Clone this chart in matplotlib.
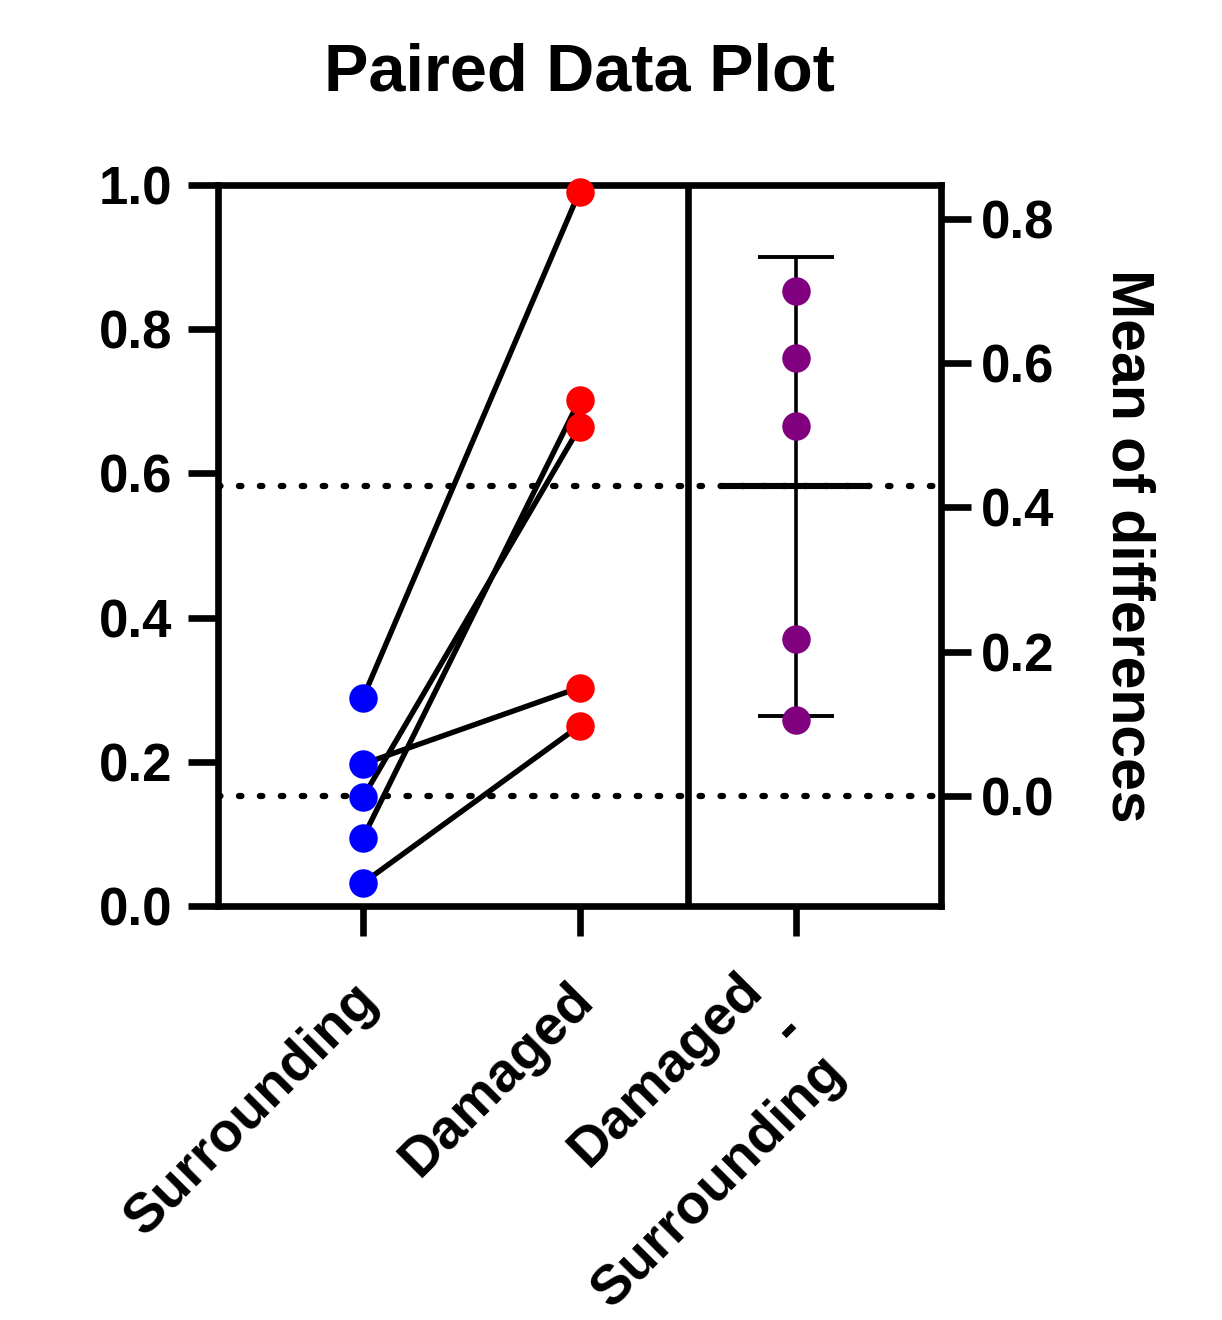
import matplotlib
matplotlib.use('Agg')
import matplotlib.pyplot as plt
import matplotlib.transforms as mtransforms
from matplotlib.ticker import FormatStrFormatter
import numpy as np

plt.rcParams['font.family'] = ['Liberation Sans', 'DejaVu Sans']
plt.rcParams['font.weight'] = 'bold'
plt.rcParams['axes.labelweight'] = 'bold'

# values
groups = ['Surrounding', 'Damaged', 'Damaged\n-\nSurrounding']
surrounding = [0.289, 0.197, 0.151, 0.095, 0.032]
damaged = [0.991, 0.303, 0.664, 0.702, 0.250]
differences = [0.700, 0.607, 0.513, 0.218, 0.105]
mean_diff = 0.429
ci_low, ci_high = 0.111, 0.747
left_ticks = [0.0, 0.2, 0.4, 0.6, 0.8, 1.0]
right_ticks = [0.0, 0.2, 0.4, 0.6, 0.8]

lw_axis = 4.8
tick_len = 21.6
ms = 20.5

fig = plt.figure(figsize=(12.22, 13.2), dpi=100)
ax1 = fig.add_axes([0.1784, 0.3136, 0.5917, 0.5462])
ax2 = ax1.twinx()
# paired points go on top of the difference axis
ax1.set_zorder(ax2.get_zorder() + 1)
ax1.patch.set_visible(False)

# paired data
for s, d in zip(surrounding, damaged):
    ax1.plot([0, 1], [s, d], color='black', lw=3.9, zorder=3)
ax1.plot(np.zeros(len(surrounding)), surrounding, 'o', color='#0000ff',
         ms=ms, mew=0, zorder=4, clip_on=False)
ax1.plot(np.ones(len(damaged)), damaged, 'o', color='#ff0000',
         ms=ms, mew=0, zorder=4, clip_on=False)
ax1.axvline(1.5, color='black', lw=lw_axis, zorder=2.6)

# difference panel
dots = (0, (0.4, 2.95))
ax2.axhline(0, color='black', lw=4.5, ls=dots, dash_capstyle='round')
ax2.axhline(mean_diff, color='black', lw=4.5, ls=dots, dash_capstyle='round')
ax2.vlines(2, ci_low, ci_high, color='black', lw=2.6)
ax2.hlines([ci_low, ci_high], 2 - 0.175, 2 + 0.175, color='black', lw=2.8)
ax2.hlines(mean_diff, 2 - 0.335, 2 + 0.335, color='black', lw=4.4)
ax2.plot(np.full(len(differences), 2), differences, 'o', color='purple',
         ms=ms, mew=0, zorder=4)

ax1.set_xlim(-0.67, 2.67)
ax1.set_ylim(0, 1)
ax2.set_ylim(-0.153, 0.847)

for sp in ax1.spines.values():
    sp.set_linewidth(lw_axis)
for sp in ax2.spines.values():
    sp.set_visible(False)

ax1.set_yticks(left_ticks)
ax1.yaxis.set_major_formatter(FormatStrFormatter('%.1f'))
ax2.set_yticks(right_ticks)
ax2.yaxis.set_major_formatter(FormatStrFormatter('%.1f'))
ax1.set_xticks(range(len(groups)), groups)

ax1.tick_params(axis='y', length=tick_len, width=lw_axis, labelsize=38, pad=11.5)
ax1.tick_params(axis='x', length=tick_len, width=lw_axis, labelsize=40, pad=27)
ax2.tick_params(axis='y', length=tick_len, width=lw_axis, labelsize=38, pad=7)

# rotated category labels, nudged like the original (pixels)
nudges = [(-12, 0), (-12, 0), (-60, 10)]
for lab, (dx, dy) in zip(ax1.get_xticklabels(), nudges):
    lab.set_rotation(45)
    lab.set_rotation_mode('anchor')
    lab.set_ha('right')
    lab.set_va('top')
    lab.set_linespacing(1.15)
    lab.set_transform(lab.get_transform() +
                      mtransforms.ScaledTranslation(dx / 100., dy / 100., fig.dpi_scale_trans))

ax1.set_title('Paired Data Plot', fontsize=48, fontweight='bold', pad=68)
ax2.set_ylabel('Mean of differences', fontsize=42.5, fontweight='bold',
               rotation=270, ha='center', va='center')
ax2.yaxis.set_label_coords(1.2586, 0.5)

fig.savefig('out.png', dpi=100)
